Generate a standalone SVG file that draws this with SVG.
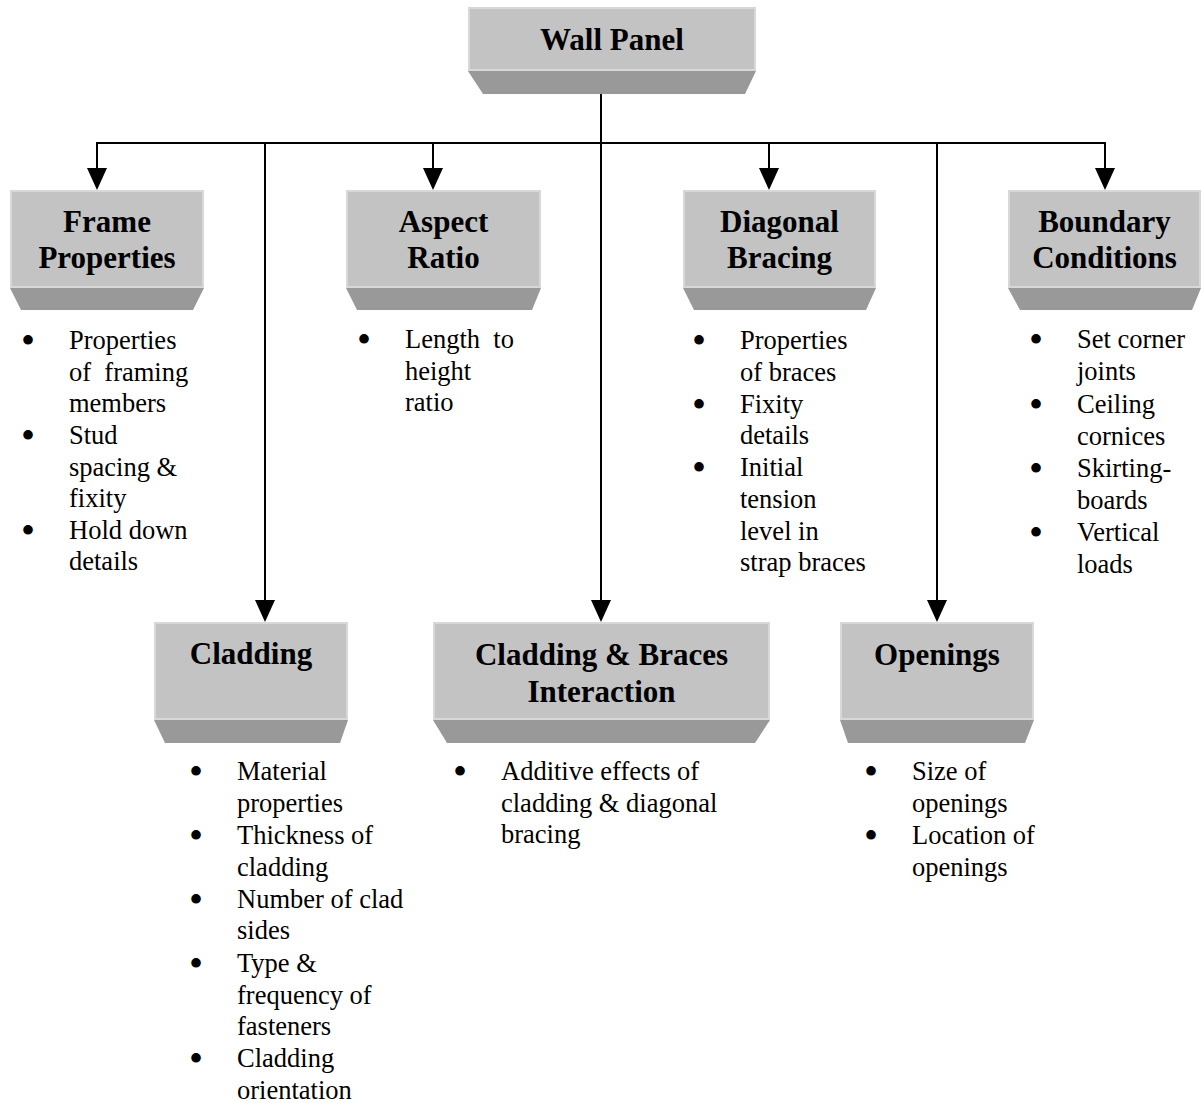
<svg xmlns="http://www.w3.org/2000/svg" width="1201" height="1103" viewBox="0 0 1201 1103">
<style>
.top{fill:#c3c3c3;stroke:#d8d8d8;stroke-width:2}
.bot{fill:#999999}
.t{font-family:"Liberation Serif","Times New Roman",serif;font-weight:bold;font-size:31px;fill:#000;text-anchor:middle}
.b{font-family:"Liberation Serif","Times New Roman",serif;font-size:26.5px;fill:#000}
.bl{font-family:"Liberation Serif","Times New Roman",serif;font-size:40px;fill:#000;text-anchor:middle}
.c{stroke:#000;stroke-width:2;fill:none}
</style>
<defs>
<marker id="ah" markerUnits="userSpaceOnUse" markerWidth="22" markerHeight="20" refX="10" refY="10" orient="auto" viewBox="0 0 22 20">
<path d="M0,0 L22,10 L0,20 z" fill="#000"/>
</marker>
</defs>
<rect width="1201" height="1103" fill="#fff"/>

<g id="connectors">
<line class="c" x1="601" y1="94" x2="601" y2="143"/>
<line class="c" x1="96" y1="143" x2="1106" y2="143"/>
<line class="c" x1="97" y1="143" x2="97" y2="178" marker-end="url(#ah)"/>
<line class="c" x1="433" y1="143" x2="433" y2="178" marker-end="url(#ah)"/>
<line class="c" x1="769" y1="143" x2="769" y2="178" marker-end="url(#ah)"/>
<line class="c" x1="1105" y1="143" x2="1105" y2="178" marker-end="url(#ah)"/>
<line class="c" x1="265" y1="143" x2="265" y2="610" marker-end="url(#ah)"/>
<line class="c" x1="601" y1="143" x2="601" y2="610" marker-end="url(#ah)"/>
<line class="c" x1="937" y1="143" x2="937" y2="610" marker-end="url(#ah)"/>
</g>

<g id="wall-panel">
<rect class="top" x="469" y="8" width="286" height="62"/>
<polygon class="bot" points="468,71 756,71 745,94 483,94"/>
<text class="t" x="612" y="50">Wall Panel</text>
</g>

<g id="frame-properties">
<rect class="top" x="11" y="191" width="192" height="96"/>
<polygon class="bot" points="10,288 204,288 193,310 21,310"/>
<text class="t" x="107" y="232">Frame</text>
<text class="t" x="107" y="268">Properties</text>
<text class="bl" x="28" y="354">•</text><text class="b" x="69" y="349">Properties</text>
<text class="b" x="69" y="381" xml:space="preserve">of  framing</text>
<text class="b" x="69" y="412">members</text>
<text class="bl" x="28" y="449">•</text><text class="b" x="69" y="444">Stud</text>
<text class="b" x="69" y="476">spacing &amp;</text>
<text class="b" x="69" y="507">fixity</text>
<text class="bl" x="28" y="544">•</text><text class="b" x="69" y="539">Hold down</text>
<text class="b" x="69" y="570">details</text>
</g>

<g id="aspect-ratio">
<rect class="top" x="347" y="191" width="193" height="96"/>
<polygon class="bot" points="346,288 541,288 532,310 357,310"/>
<text class="t" x="443.5" y="232">Aspect</text>
<text class="t" x="443.5" y="268">Ratio</text>
<text class="bl" x="364" y="353">•</text><text class="b" x="405" y="348" xml:space="preserve">Length  to</text>
<text class="b" x="405" y="380">height</text>
<text class="b" x="405" y="411">ratio</text>
</g>

<g id="diagonal-bracing">
<rect class="top" x="684" y="191" width="191" height="96"/>
<polygon class="bot" points="683,288 876,288 866,310 694,310"/>
<text class="t" x="779.5" y="232">Diagonal</text>
<text class="t" x="779.5" y="268">Bracing</text>
<text class="bl" x="699" y="354">•</text><text class="b" x="740" y="349">Properties</text>
<text class="b" x="740" y="381">of braces</text>
<text class="bl" x="699" y="418">•</text><text class="b" x="740" y="413">Fixity</text>
<text class="b" x="740" y="444">details</text>
<text class="bl" x="699" y="481">•</text><text class="b" x="740" y="476">Initial</text>
<text class="b" x="740" y="508">tension</text>
<text class="b" x="740" y="540">level in</text>
<text class="b" x="740" y="571">strap braces</text>
</g>

<g id="boundary-conditions">
<rect class="top" x="1009" y="191" width="191" height="96"/>
<polygon class="bot" points="1008,288 1201,288 1192,310 1020,310"/>
<text class="t" x="1104.5" y="232">Boundary</text>
<text class="t" x="1104.5" y="268">Conditions</text>
<text class="bl" x="1036" y="353">•</text><text class="b" x="1077" y="348">Set corner</text>
<text class="b" x="1077" y="380">joints</text>
<text class="bl" x="1036" y="418">•</text><text class="b" x="1077" y="413">Ceiling</text>
<text class="b" x="1077" y="445">cornices</text>
<text class="bl" x="1036" y="482">•</text><text class="b" x="1077" y="477">Skirting-</text>
<text class="b" x="1077" y="509">boards</text>
<text class="bl" x="1036" y="546">•</text><text class="b" x="1077" y="541">Vertical</text>
<text class="b" x="1077" y="573">loads</text>
</g>

<g id="cladding">
<rect class="top" x="155" y="623" width="192" height="96"/>
<polygon class="bot" points="154,720 348,720 340,743 165,743"/>
<text class="t" x="251" y="664">Cladding</text>
<text class="bl" x="196" y="785">•</text><text class="b" x="237" y="780">Material</text>
<text class="b" x="237" y="812">properties</text>
<text class="bl" x="196" y="849">•</text><text class="b" x="237" y="844">Thickness of</text>
<text class="b" x="237" y="876">cladding</text>
<text class="bl" x="196" y="913">•</text><text class="b" x="237" y="908">Number of clad</text>
<text class="b" x="237" y="939">sides</text>
<text class="bl" x="196" y="977">•</text><text class="b" x="237" y="972">Type &amp;</text>
<text class="b" x="237" y="1004">frequency of</text>
<text class="b" x="237" y="1035">fasteners</text>
<text class="bl" x="196" y="1072">•</text><text class="b" x="237" y="1067">Cladding</text>
<text class="b" x="237" y="1099">orientation</text>
</g>

<g id="cladding-braces-interaction">
<rect class="top" x="434" y="623" width="335" height="96"/>
<polygon class="bot" points="433,720 770,720 755,743 447,743"/>
<text class="t" x="601.5" y="665">Cladding &amp; Braces</text>
<text class="t" x="601.5" y="702">Interaction</text>
<text class="bl" x="460" y="785">•</text><text class="b" x="501" y="780">Additive effects of</text>
<text class="b" x="501" y="812">cladding &amp; diagonal</text>
<text class="b" x="501" y="843">bracing</text>
</g>

<g id="openings">
<rect class="top" x="841" y="623" width="192" height="96"/>
<polygon class="bot" points="840,720 1034,720 1025,743 848,743"/>
<text class="t" x="937" y="665">Openings</text>
<text class="bl" x="871" y="785">•</text><text class="b" x="912" y="780">Size of</text>
<text class="b" x="912" y="812">openings</text>
<text class="bl" x="871" y="849">•</text><text class="b" x="912" y="844">Location of</text>
<text class="b" x="912" y="876">openings</text>
</g>
</svg>
